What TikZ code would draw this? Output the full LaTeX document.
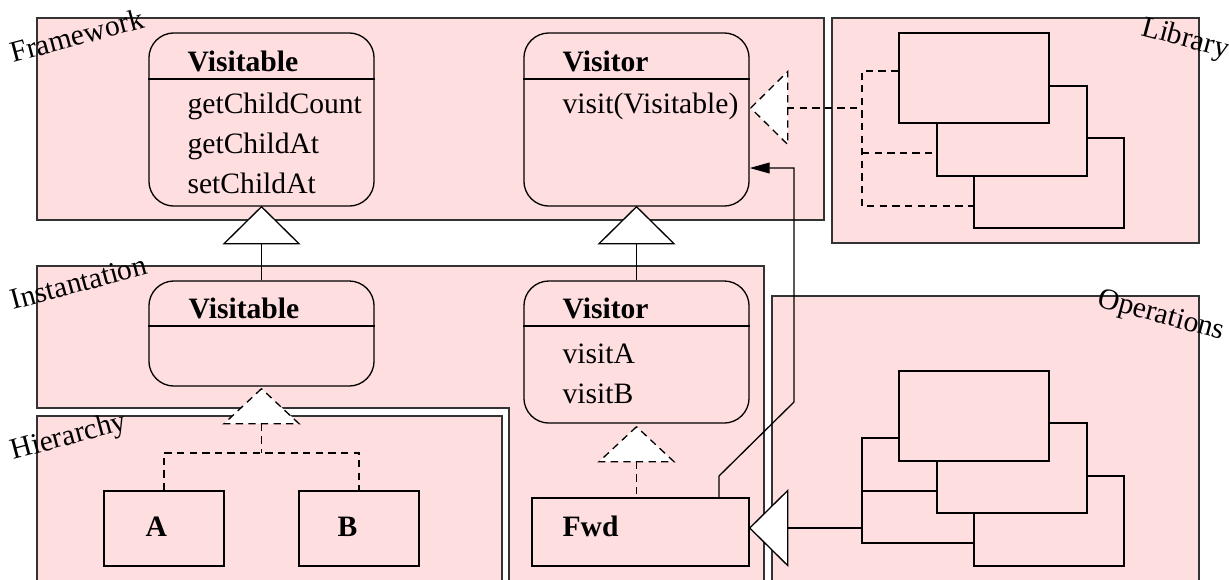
\documentclass[tikz,border=0pt]{standalone}
\usepackage{fontspec}
\setmainfont{Liberation Serif}
\usetikzlibrary{arrows.meta}
\definecolor{grouppink}{RGB}{255,222,224}

\tikzset{
    groupbox/.style={draw=black!80, fill=grouppink, line width=0.45pt},
    classbox/.style={draw, fill=grouppink, rounded corners=0.3cm, line width=0.45pt, inner sep=0pt},
    plainbox/.style={draw, fill=grouppink, line width=0.45pt, inner sep=0pt},
    txt/.style={anchor=base west, inner sep=0pt},
    link/.style={line width=0.45pt},
    dashlink/.style={line width=0.45pt, dash pattern=on 2.5pt off 1.8pt},
}

\begin{document}
\begin{tikzpicture}[x=0.012cm, y=-0.012cm, font=\fontsize{10.1pt}{12pt}\selectfont]
        \useasboundingbox (0,0) rectangle (1229,579);

        % groups
        \filldraw[groupbox] (37,18) rectangle (824,220);
        \filldraw[groupbox] (832,18) rectangle (1199,243);
        \filldraw[groupbox] (37,266) -- (764,266) -- (764,600) -- (509,600) -- (509,408) -- (37,408) -- cycle;
        \filldraw[groupbox] (37,416) rectangle (502,600);
        \filldraw[groupbox] (772,296) rectangle (1199,600);

        \node[txt, rotate=15] (fwlabel) at (13,63) {Framework};
        \node[txt, rotate=15] (instlabel) at (13,310) {Instantation};
        \node[txt, rotate=15] (hierlabel) at (13,460) {Hierarchy};
        \node[txt, rotate=-15] (liblabel) at (1140,35) {Library};
        \node[txt, rotate=-15] (opslabel) at (1096,306) {Operations};

        % framework classes
        \node[classbox, minimum width=2.7cm, minimum height=2.076cm] (fwvisitable) at (261.5,119.5) {};
        \draw[link] (fwvisitable.west |- 0,79) -- (fwvisitable.east |- 0,79);
        \node[txt] (fwvisitablename) at (187,71) {\textbf{Visitable}};
        \node[txt] (fwgetcount) at (187,113) {getChildCount};
        \node[txt] (fwgetat) at (187,153) {getChildAt};
        \node[txt] (fwsetat) at (187,193) {setChildAt};

        \node[classbox, minimum width=2.7cm, minimum height=2.076cm] (fwvisitor) at (636.5,119.5) {};
        \draw[link] (fwvisitor.west |- 0,79) -- (fwvisitor.east |- 0,79);
        \node[txt] (fwvisitorname) at (562,71) {\textbf{Visitor}};
        \node[txt] (fwvisit) at (562,113) {visit(Visitable)};

        % instantiation classes
        \node[classbox, minimum width=2.7cm, minimum height=1.26cm] (invisitable) at (261.5,333.5) {};
        \draw[link] (invisitable.west |- 0,326) -- (invisitable.east |- 0,326);
        \node[txt] (invisitablename) at (188,318) {\textbf{Visitable}};

        \node[classbox, minimum width=2.7cm, minimum height=1.704cm] (invisitor) at (636.5,352) {};
        \draw[link] (invisitor.west |- 0,326) -- (invisitor.east |- 0,326);
        \node[txt] (invisitorname) at (562,318) {\textbf{Visitor}};
        \node[txt] (invisita) at (562,363) {visitA};
        \node[txt] (invisitb) at (562,403) {visitB};

        % hierarchy and forwarder
        \node[plainbox, minimum width=1.44cm, minimum height=0.9cm] (a) at (164,528.5) {};
        \node[txt] (aname) at (145,536) {\textbf{A}};
        \node[plainbox, minimum width=1.44cm, minimum height=0.9cm] (b) at (359,528.5) {};
        \node[txt] (bname) at (337,536) {\textbf{B}};
        \node[plainbox, minimum width=2.604cm, minimum height=0.816cm] (fwd) at (640.5,532) {};
        \node[txt] (fwdname) at (562,536) {\textbf{Fwd}};

        % library and operations stacks
        \node[plainbox, minimum width=1.8cm, minimum height=1.08cm] (libC) at (1049,183) {};
        \node[plainbox, minimum width=1.8cm, minimum height=1.08cm] (libB) at (1012,131) {};
        \node[plainbox, minimum width=1.8cm, minimum height=1.08cm] (libA) at (974,78) {};
        \node[plainbox, minimum width=1.8cm, minimum height=1.08cm] (opsC) at (1049,521) {};
        \node[plainbox, minimum width=1.8cm, minimum height=1.08cm] (opsB) at (1012,468) {};
        \node[plainbox, minimum width=1.8cm, minimum height=1.08cm] (opsA) at (974,416) {};

        % generalizations
        \filldraw[link, fill=white] (fwvisitable.south) -- ++(-37.5,37) coordinate (gen1) -- ++(75,0) -- cycle;
        \draw[link] (invisitable.north) -- (invisitable.north |- gen1);
        \filldraw[link, fill=white] (fwvisitor.south) -- ++(-37.5,37) coordinate (gen2) -- ++(75,0) -- cycle;
        \draw[link] (invisitor.north) -- (invisitor.north |- gen2);

        % realizations
        \filldraw[dashlink, fill=white] (invisitable.south) ++(0,2) -- ++(-37.5,35) coordinate (real1) -- ++(75,0) -- cycle;
        \draw[dashlink] (invisitable.south |- real1) -- (261.5,453);
        \draw[dashlink] (a.north) -- (a.north |- 0,453) -- (b.north |- 0,453) -- (b.north);
        \filldraw[dashlink, fill=white] (invisitor.south) ++(0,3) -- ++(-37.5,35) coordinate (real2) -- ++(75,0) -- cycle;
        \draw[dashlink] (invisitor.south |- real2) -- (invisitor.south |- fwd.north);

        % library realizes visitor
        \filldraw[dashlink, fill=white] (fwvisitor.east |- 0,108) ++(1,0) -- ++(37,-36.5) -- ++(0,73) -- cycle;
        \coordinate (libtri) at (787,108);
        \draw[dashlink] (libtri) -- (862,108);
        \draw[dashlink] (libA.west |- 0,71) -| (862,206) -- (libC.west |- 0,206);
        \draw[dashlink] (862,153) -- (libB.west |- 0,153);

        % operations use forwarder
        \filldraw[link, fill=white] (fwd.east |- 0,528) -- ++(38,-37.5) -- ++(0,75) -- cycle;
        \coordinate (opstri) at (787,528);
        \draw[link] (opstri) -- (862,528);
        \draw[link] (opsA.west |- 0,438) -| (862,543) -- (opsC.west |- 0,543);
        \draw[link] (862,491) -- (opsB.west |- 0,491);

        % forwarder calls visitor
        \draw[link, -{Triangle[length=0.24cm, width=0.13cm]}] (719,0 |- fwd.north) -- (719,476) -- (794,402) -- (794,168) -- (fwvisitor.east |- 0,168);
\end{tikzpicture}
\end{document}
